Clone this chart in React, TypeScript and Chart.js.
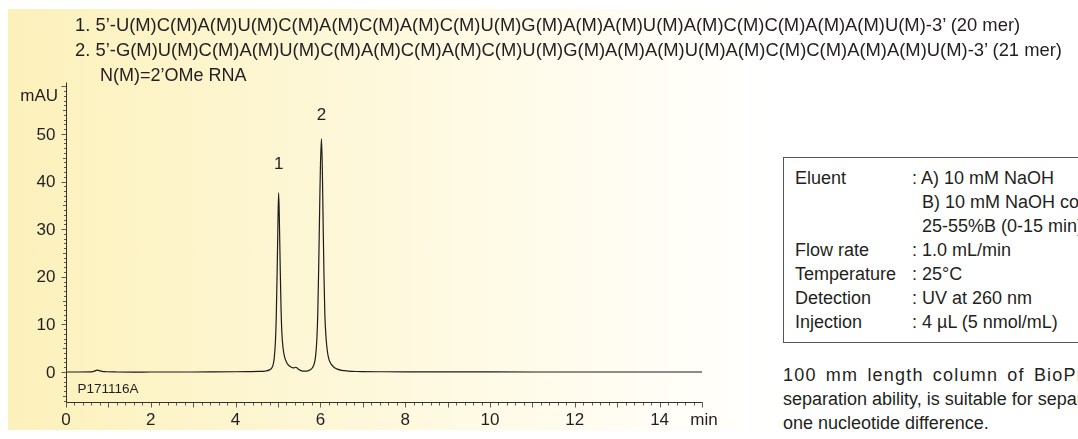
import React, { useEffect, useRef } from "react";
import { Chart, registerables } from "chart.js";

Chart.register(...registerables);

// ---- Data ----
const retentionTimes = [
  0, 0.3, 0.6, 0.68, 0.73, 0.78, 0.85, 0.95, 1.2, 1.6,
  2.0, 2.5, 3.0, 3.5, 4.0, 4.3, 4.55, 4.7, 4.8, 4.85,
  4.88, 4.91, 4.94, 4.96, 4.98, 5.0, 5.015, 5.03, 5.05, 5.07,
  5.09, 5.12, 5.16, 5.21, 5.27, 5.33, 5.38, 5.42, 5.45, 5.5,
  5.58, 5.68, 5.76, 5.82, 5.86, 5.89, 5.92, 5.94, 5.96, 5.98,
  6.0, 6.025, 6.045, 6.065, 6.085, 6.105, 6.135, 6.165, 6.2, 6.25,
  6.32, 6.4, 6.5, 6.65, 6.85, 7.0, 7.5, 8.0, 9.0, 10.0,
  11.0, 12.0, 13.0, 14.0, 15.0,
];
const absorbance = [
  0, 0, 0.02, 0.2, 0.4, 0.3, 0.12, 0.05, 0, -0.03,
  0, 0, 0, 0.02, 0.05, 0.08, 0.12, 0.2, 0.45, 0.8,
  1.4, 2.8, 6.5, 12, 21, 32, 37.6, 33, 23, 14,
  8.5, 5, 3, 1.9, 1.25, 0.95, 0.85, 1.0, 0.85, 0.45,
  0.2, 0.2, 0.45, 1.0, 1.9, 3.6, 7.5, 13, 22, 33,
  43, 49, 43, 31, 20, 12, 7, 4.3, 2.7, 1.7,
  1.0, 0.6, 0.35, 0.2, 0.1, 0.08, 0.05, 0.03, 0.02, 0.01,
  0, 0, 0, 0, 0,
];
const xTickValues = [0, 2, 4, 6, 8, 10, 12, 14];
const yTickValues = [0, 10, 20, 30, 40, 50];
const peakNames = ["1", "2"];
const peakTimes = [5.015, 6.025];
const peakLabelLevels = [43.6, 53.9];

const titleLines = [
  "1. 5’-U(M)C(M)A(M)U(M)C(M)A(M)C(M)A(M)C(M)U(M)G(M)A(M)A(M)U(M)A(M)C(M)C(M)A(M)A(M)U(M)-3’ (20 mer)",
  "2. 5’-G(M)U(M)C(M)A(M)U(M)C(M)A(M)C(M)A(M)C(M)U(M)G(M)A(M)A(M)U(M)A(M)C(M)C(M)A(M)A(M)U(M)-3’ (21 mer)",
];
const noteLine = "N(M)=2’OMe RNA";
const conditionLabels = ["Eluent", "", "", "Flow rate", "Temperature", "Detection", "Injection"];
const conditionValues = [
  ": A) 10 mM NaOH",
  "B) 10 mM NaOH containing 1 M NaCl",
  "25-55%B (0-15 min)",
  ": 1.0 mL/min",
  ": 25°C",
  ": UV at 260 nm",
  ": 4 µL (5 nmol/mL)",
];
const noteParagraph = [
  "100 mm length column of BioPro IEX QF, which has high",
  "separation ability, is suitable for separation of oligonucleotides with",
  "one nucleotide difference.",
];

const X_MIN = 0;
const X_MAX = 15;
const Y_MIN = -6.3;
const Y_MAX = 60.9;
const FONT = "'Liberation Sans', Arial, Helvetica, sans-serif";
const INK = "#231f20";

const axesPlugin = {
  id: "chromAxes",
  afterDatasetsDraw(chart: any) {
    const { ctx } = chart;
    const xs = chart.scales.x;
    const ys = chart.scales.y;
    const left = Math.round(xs.getPixelForValue(X_MIN)) + 0.5;
    const right = Math.round(xs.getPixelForValue(X_MAX)) + 0.5;
    const top = Math.round(ys.getPixelForValue(Y_MAX)) + 0.5;
    const bottom = Math.round(ys.getPixelForValue(Y_MIN)) + 0.5;
    ctx.save();
    ctx.strokeStyle = "#333";
    ctx.lineWidth = 1;
    ctx.beginPath();
    ctx.moveTo(left, top);
    ctx.lineTo(left, bottom);
    ctx.lineTo(right, bottom);
    ctx.stroke();

    // y tick marks every 1 mAU
    ctx.lineWidth = 0.8;
    ctx.beginPath();
    for (let v = -6; v <= 60; v += 1) {
      const py = Math.round(ys.getPixelForValue(v)) + 0.5;
      const len = v % 10 === 0 ? 5 : v % 5 === 0 ? 3.5 : 2.5;
      ctx.moveTo(left, py);
      ctx.lineTo(left - len, py);
    }
    // x tick marks every 0.2 min
    for (let i = 0; i <= 75; i++) {
      const v = i * 0.2;
      const px = Math.round(xs.getPixelForValue(v)) + 0.5;
      const len = i % 5 === 0 ? 5 : 3;
      ctx.moveTo(px, bottom);
      ctx.lineTo(px, bottom + len);
    }
    ctx.stroke();

    ctx.fillStyle = INK;
    ctx.font = `17px ${FONT}`;
    ctx.textBaseline = "middle";
    ctx.textAlign = "right";
    yTickValues.forEach((v) => {
      ctx.fillText(String(v), left - 11, ys.getPixelForValue(v) + 1);
    });
    ctx.fillText("mAU", 58, 96);
    ctx.textAlign = "center";
    xTickValues.forEach((v) => {
      ctx.fillText(String(v), xs.getPixelForValue(v), bottom + 18);
    });
    ctx.fillText("min", xs.getPixelForValue(X_MAX) + 2, bottom + 18);

    ctx.font = `17px ${FONT}`;
    peakNames.forEach((n, i) => {
      ctx.fillText(n, xs.getPixelForValue(peakTimes[i]), ys.getPixelForValue(peakLabelLevels[i]));
    });

    ctx.font = `13.5px ${FONT}`;
    ctx.textAlign = "left";
    ctx.fillText("P171116A", left + 11, bottom - 13);
    ctx.restore();
  },
};

export default function App() {
  const canvasRef = useRef<HTMLCanvasElement | null>(null);

  useEffect(() => {
    if (!canvasRef.current) return;
    const points = retentionTimes.map((t, i) => ({ x: t, y: absorbance[i] }));
    const chart = new Chart(canvasRef.current, {
      type: "line",
      data: {
        datasets: [
          {
            data: points,
            borderColor: "#1c1c1c",
            borderWidth: 1.2,
            pointRadius: 0,
            fill: false,
            cubicInterpolationMode: "monotone",
          },
        ],
      },
      options: {
        animation: false,
        responsive: false,
        maintainAspectRatio: false,
        parsing: false,
        layout: { padding: { left: 66, right: 38, top: 82, bottom: 37 } },
        scales: {
          x: { type: "linear", min: X_MIN, max: X_MAX, display: false },
          y: { type: "linear", min: Y_MIN, max: Y_MAX, display: false },
        },
        plugins: { legend: { display: false }, tooltip: { enabled: false } },
      },
      plugins: [axesPlugin],
    } as any);
    return () => chart.destroy();
  }, []);

  const text: React.CSSProperties = {
    position: "absolute",
    fontFamily: FONT,
    fontSize: 18,
    color: INK,
    whiteSpace: "pre",
    lineHeight: "24px",
  };

  return (
    <div
      style={{
        position: "absolute",
        left: 0,
        top: 0,
        width: 1078,
        height: 439,
        overflow: "hidden",
        background: "#ffffff",
      }}
    >
      <div
        style={{
          position: "absolute",
          left: 8,
          top: 9,
          width: 770,
          height: 421,
          background:
            "linear-gradient(to right, #fcf1bb 0%, #fdf5cf 30%, #fefae4 60%, #fffdf4 82%, #ffffff 100%)",
        }}
      />
      <canvas
        ref={canvasRef}
        width={740}
        height={439}
        style={{ position: "absolute", left: 0, top: 0, width: 740, height: 439 }}
      />
      {titleLines.map((l, i) => (
        <div key={"t" + i} style={{ ...text, fontSize: 18.4, left: 75, top: 13 + i * 25 }}>
          {l}
        </div>
      ))}
      <div style={{ ...text, left: 100, top: 63 }}>{noteLine}</div>

      <div
        style={{
          position: "absolute",
          left: 783,
          top: 157,
          width: 400,
          height: 184,
          border: "1px solid #555",
        }}
      />
      {conditionLabels.map((l, i) => (
        <div key={"cl" + i} style={{ ...text, left: 795, top: 166 + i * 24 }}>
          {l}
        </div>
      ))}
      {conditionValues.map((v, i) => (
        <div
          key={"cv" + i}
          style={{ ...text, left: v.startsWith(":") ? 912 : 922, top: 166 + i * 24 }}
        >
          {v}
        </div>
      ))}
      {noteParagraph.map((l, i) => (
        <div
          key={"p" + i}
          style={{
            ...text,
            left: 783,
            top: 363 + i * 24,
            letterSpacing: i === 0 ? "1.2px" : "0px",
            wordSpacing: i === 0 ? "3px" : "0px",
          }}
        >
          {l}
        </div>
      ))}
    </div>
  );
}
